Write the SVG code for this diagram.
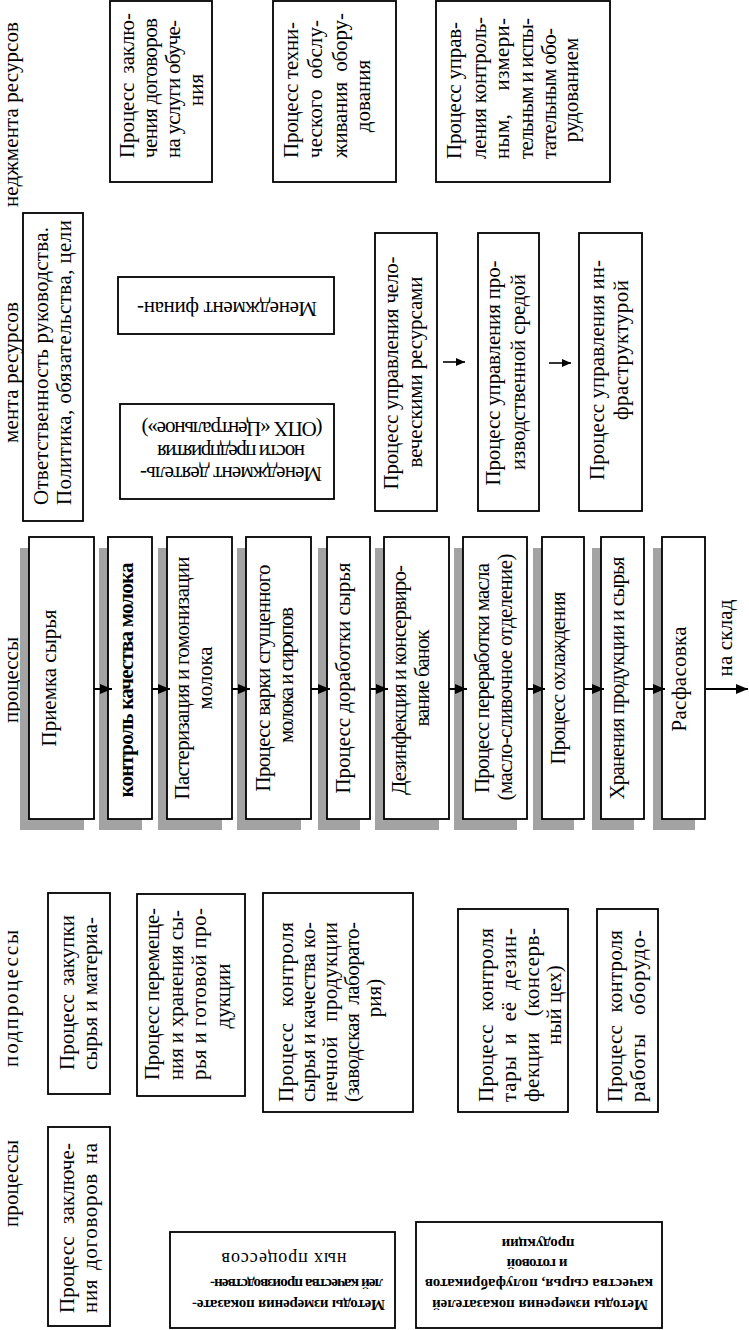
<svg xmlns="http://www.w3.org/2000/svg" width="749" height="1330" viewBox="0 0 749 1330">
<defs>
<style>
.t{font-family:"Liberation Serif","Times New Roman",serif;font-size:21px;fill:#000}
.m{text-anchor:middle}
.bd{font-weight:bold}
.big{font-size:21px}
.sm{font-size:15px;font-weight:bold}
.md{font-size:18px}
.bx{fill:#fff;stroke:#000;stroke-width:1.8}
.sh{fill:#a3a3a3}
.cn{stroke:#000;stroke-width:2;fill:none}
.cs{stroke:#000;stroke-width:1.6;fill:none}
</style>
<marker id="ah" markerUnits="userSpaceOnUse" markerWidth="12" markerHeight="10" refX="12" refY="5" orient="auto"><path d="M0,0 L12,5 L0,10 z" fill="#000"/></marker>
<marker id="ah2" markerUnits="userSpaceOnUse" markerWidth="9" markerHeight="8" refX="9" refY="4" orient="auto"><path d="M0,0 L9,4 L0,8 z" fill="#000"/></marker>
</defs>
<rect width="749" height="1330" fill="#fff"/>

<g id="headers">
<text class="t big" transform="translate(18,207) rotate(-90)" textLength="185">неджмента ресурсов</text>
<text class="t big" transform="translate(18,443) rotate(-90)" textLength="141">мента ресурсов</text>
<text class="t big" transform="translate(18,723) rotate(-90)" textLength="86">процессы</text>
<text class="t big" transform="translate(18,1067) rotate(-90)" textLength="137">подпроцессы</text>
<text class="t big" transform="translate(18,1227) rotate(-90)" textLength="87">процессы</text>
</g>

<g id="top-contracts">
<rect class="bx" x="110" y="1" width="102" height="181"/>
<text class="t" transform="translate(134,158) rotate(-90)" textLength="145" style="word-spacing:4px">Процесс заклю-</text>
<text class="t" transform="translate(157,158) rotate(-90)" textLength="140">чения договоров</text>
<text class="t" transform="translate(180,158) rotate(-90)" textLength="138">на услуги обуче-</text>
<text class="t m" transform="translate(203,90) rotate(-90)">ния</text>
</g>

<g id="top-maintenance">
<rect class="bx" x="273" y="1" width="123" height="181"/>
<text class="t" transform="translate(298,158) rotate(-90)" textLength="136">Процесс техни-</text>
<text class="t" transform="translate(322,158) rotate(-90)" textLength="138" style="word-spacing:5px">ческого обслу-</text>
<text class="t" transform="translate(347,158) rotate(-90)" textLength="145" style="word-spacing:5px">живания обору-</text>
<text class="t m" transform="translate(370,96) rotate(-90)">дования</text>
</g>

<g id="top-measuring">
<rect class="bx" x="436" y="1" width="174" height="181"/>
<text class="t" transform="translate(461,159) rotate(-90)" textLength="137">Процесс управ-</text>
<text class="t" transform="translate(486,159) rotate(-90)" textLength="142">ления контроль-</text>
<text class="t" transform="translate(509,159) rotate(-90)" textLength="141" style="word-spacing:18px">ным, измери-</text>
<text class="t" transform="translate(533,159) rotate(-90)" textLength="141">тельным и испы-</text>
<text class="t" transform="translate(556,159) rotate(-90)" textLength="131">тательным обо-</text>
<text class="t m" transform="translate(578,90) rotate(-90)">рудованием</text>
</g>

<g id="responsibility">
<rect class="bx" x="23" y="213" width="60" height="308"/>
<text class="t big" transform="translate(48,505) rotate(-90)" textLength="278">Ответственность руководства.</text>
<text class="t big" transform="translate(71,505) rotate(-90)" textLength="285">Политика, обязательства, цели</text>
</g>

<g id="finance">
<rect class="bx" x="118" y="277" width="216" height="57"/>
<text class="t m" transform="translate(227,302) rotate(180)" textLength="180">Менеджмент финан-</text>
</g>

<g id="enterprise">
<rect class="bx" x="120" y="404" width="214" height="95"/>
<text class="t m" transform="translate(231,467) rotate(180)" textLength="182">Менеджмент деятель-</text>
<text class="t m" transform="translate(231,445) rotate(180)" textLength="148">ности предприятия</text>
<text class="t m" transform="translate(232,422) rotate(180)" textLength="181">(ОПХ «Центральное»)</text>
</g>

<g id="human">
<rect class="bx" x="375" y="233" width="62" height="278"/>
<text class="t m" transform="translate(398,373) rotate(-90)" textLength="233">Процесс управления чело-</text>
<text class="t m" transform="translate(422,372) rotate(-90)" textLength="191">веческими ресурсами</text>
</g>

<g id="environment">
<rect class="bx" x="478" y="233" width="61" height="278"/>
<text class="t m" transform="translate(500,373) rotate(-90)" textLength="225">Процесс управления про-</text>
<text class="t m" transform="translate(525,372) rotate(-90)" textLength="196">изводственной средой</text>
</g>

<g id="infrastructure">
<rect class="bx" x="579" y="233" width="63" height="278"/>
<text class="t m" transform="translate(604,370) rotate(-90)" textLength="220">Процесс управления ин-</text>
<text class="t m" transform="translate(628,350) rotate(-90)" textLength="140">фраструктурой</text>
</g>

<g id="p1">
<rect class="sh" x="20" y="548" width="64" height="282"/>
<rect class="bx" x="29" y="537" width="65" height="282"/>
<text class="t m" transform="translate(56,678) rotate(-90)" textLength="137">Приемка сырья</text>
</g>
<g id="p2">
<rect class="sh" x="99" y="548" width="43" height="282"/>
<rect class="bx" x="108" y="537" width="44" height="282"/>
<text class="t m bd" transform="translate(133,680) rotate(-90)" textLength="235">контроль качества молока</text>
</g>
<g id="p3">
<rect class="sh" x="158" y="548" width="64" height="282"/>
<rect class="bx" x="167" y="537" width="65" height="282"/>
<text class="t m" transform="translate(189,678) rotate(-90)" textLength="243">Пастеризация и гомонизации</text>
<text class="t m" transform="translate(212,678) rotate(-90)" textLength="63">молока</text>
</g>
<g id="p4">
<rect class="sh" x="237" y="548" width="64" height="282"/>
<rect class="bx" x="246" y="537" width="65" height="282"/>
<text class="t m" transform="translate(270,678) rotate(-90)" textLength="227">Процесс варки сгущенного</text>
<text class="t m" transform="translate(293,675) rotate(-90)" textLength="136">молока и сиропов</text>
</g>
<g id="p5">
<rect class="sh" x="318" y="548" width="42" height="282"/>
<rect class="bx" x="327" y="537" width="43" height="282"/>
<text class="t m" transform="translate(350,678) rotate(-90)" textLength="231">Процесс доработки сырья</text>
</g>
<g id="p6">
<rect class="sh" x="375" y="548" width="64" height="282"/>
<rect class="bx" x="384" y="537" width="65" height="282"/>
<text class="t m" transform="translate(406,680) rotate(-90)" textLength="230">Дезинфекция и консервиро-</text>
<text class="t m" transform="translate(429,678) rotate(-90)" textLength="97">вание банок</text>
</g>
<g id="p7">
<rect class="sh" x="454" y="548" width="63" height="282"/>
<rect class="bx" x="463" y="537" width="64" height="282"/>
<text class="t m" transform="translate(489,678) rotate(-90)" textLength="230">Процесс переработки масла</text>
<text class="t m" transform="translate(512,677) rotate(-90)" textLength="247">(масло-сливочное отделение)</text>
</g>
<g id="p8">
<rect class="sh" x="533" y="548" width="41" height="282"/>
<rect class="bx" x="542" y="537" width="42" height="282"/>
<text class="t m" transform="translate(565,678) rotate(-90)" textLength="173">Процесс охлаждения</text>
</g>
<g id="p9">
<rect class="sh" x="592" y="548" width="42" height="282"/>
<rect class="bx" x="601" y="537" width="43" height="282"/>
<text class="t m" transform="translate(624,678) rotate(-90)" textLength="243">Хранения продукции и сырья</text>
</g>
<g id="p10">
<rect class="sh" x="653" y="548" width="42" height="282"/>
<rect class="bx" x="662" y="537" width="43" height="282"/>
<text class="t m" transform="translate(686,679) rotate(-90)" textLength="105">Расфасовка</text>
</g>

<g id="sub-purchase">
<rect class="bx" x="48" y="893" width="62" height="201"/>
<text class="t" transform="translate(74,1070) rotate(-90)" textLength="155" style="word-spacing:3px">Процесс закупки</text>
<text class="t" transform="translate(97,1070) rotate(-90)" textLength="153">сырья и материа-</text>
</g>

<g id="sub-storage">
<rect class="bx" x="137" y="894" width="108" height="202"/>
<text class="t" transform="translate(159,1080) rotate(-90)" textLength="172">Процесс перемеще-</text>
<text class="t" transform="translate(183,1080) rotate(-90)" textLength="170">ния и хранения сы-</text>
<text class="t" transform="translate(206,1080) rotate(-90)" textLength="172">рья и готовой про-</text>
<text class="t m" transform="translate(230,996) rotate(-90)">дукции</text>
</g>

<g id="sub-lab">
<rect class="bx" x="263" y="893" width="150" height="219"/>
<text class="t" transform="translate(293,1102) rotate(-90)" textLength="180" style="word-spacing:10px">Процесс контроля</text>
<text class="t" transform="translate(315,1102) rotate(-90)" textLength="180">сырья и качества ко-</text>
<text class="t" transform="translate(337,1102) rotate(-90)" textLength="180" style="word-spacing:9px">нечной продукции</text>
<text class="t" transform="translate(359,1102) rotate(-90)" textLength="180" style="word-spacing:4px">(заводская лаборато-</text>
<text class="t m" transform="translate(381,998) rotate(-90)">рия)</text>
</g>

<g id="sub-tare">
<rect class="bx" x="458" y="909" width="110" height="203"/>
<text class="t" transform="translate(493,1102) rotate(-90)" textLength="174" style="word-spacing:8px">Процесс контроля</text>
<text class="t" transform="translate(516,1102) rotate(-90)" textLength="174" style="word-spacing:5px">тары и её дезин-</text>
<text class="t" transform="translate(539,1102) rotate(-90)" textLength="174" style="word-spacing:10px">фекции (консерв-</text>
<text class="t m" transform="translate(561,1005) rotate(-90)">ный цех)</text>
</g>

<g id="sub-equipment">
<rect class="bx" x="597" y="909" width="61" height="203"/>
<text class="t" transform="translate(622,1102) rotate(-90)" textLength="172" style="word-spacing:7px">Процесс контроля</text>
<text class="t" transform="translate(645,1102) rotate(-90)" textLength="172" style="word-spacing:12px">работы оборудо-</text>
</g>

<g id="contracts">
<rect class="bx" x="48" y="1127" width="62" height="199"/>
<text class="t" transform="translate(74,1313) rotate(-90)" textLength="170" style="word-spacing:7px">Процесс заключе-</text>
<text class="t" transform="translate(97,1313) rotate(-90)" textLength="170" style="word-spacing:3px">ния договоров на</text>
</g>

<g id="methods-process">
<rect class="bx" x="170" y="1232" width="225" height="96"/>
<text class="t sm" transform="translate(385,1300) rotate(180)" textLength="193">Методы измерения показате-</text>
<text class="t sm" transform="translate(383,1279) rotate(180)" textLength="173">лей качества производствен-</text>
<text class="t md m" transform="translate(284,1253) rotate(180)" textLength="125">ных процессов</text>
</g>

<g id="methods-product">
<rect class="bx" x="416" y="1222" width="246" height="106"/>
<text class="t sm" transform="translate(648,1300) rotate(180)" textLength="216">Методы измерения показателей</text>
<text class="t sm" transform="translate(653,1279) rotate(180)" textLength="228">качества сырья, полуфабрикатов</text>
<text class="t sm m" transform="translate(537,1259) rotate(180)" textLength="61">и готовой</text>
<text class="t sm m" transform="translate(538,1239) rotate(180)" textLength="73">продукции</text>
</g>

<g id="connectors">
<line class="cn" x1="94" y1="689" x2="112" y2="689" marker-end="url(#ah)"/>
<line class="cn" x1="152" y1="689" x2="170" y2="689" marker-end="url(#ah)"/>
<line class="cn" x1="232" y1="689" x2="250" y2="689" marker-end="url(#ah)"/>
<line class="cn" x1="311" y1="689" x2="330" y2="689" marker-end="url(#ah)"/>
<line class="cn" x1="370" y1="689" x2="388" y2="689" marker-end="url(#ah)"/>
<line class="cn" x1="449" y1="689" x2="467" y2="689" marker-end="url(#ah)"/>
<line class="cn" x1="527" y1="689" x2="545" y2="689" marker-end="url(#ah)"/>
<line class="cn" x1="584" y1="689" x2="604" y2="689" marker-end="url(#ah)"/>
<line class="cn" x1="644" y1="689" x2="665" y2="689" marker-end="url(#ah)"/>
<line class="cn" x1="705" y1="689" x2="748" y2="689" marker-end="url(#ah)"/>
<text class="t m" transform="translate(732,638) rotate(-90)" textLength="77">на склад</text>
<line class="cs" x1="443" y1="362" x2="465" y2="362" marker-end="url(#ah2)"/>
<line class="cs" x1="549" y1="363" x2="571" y2="363" marker-end="url(#ah2)"/>
</g>
</svg>
